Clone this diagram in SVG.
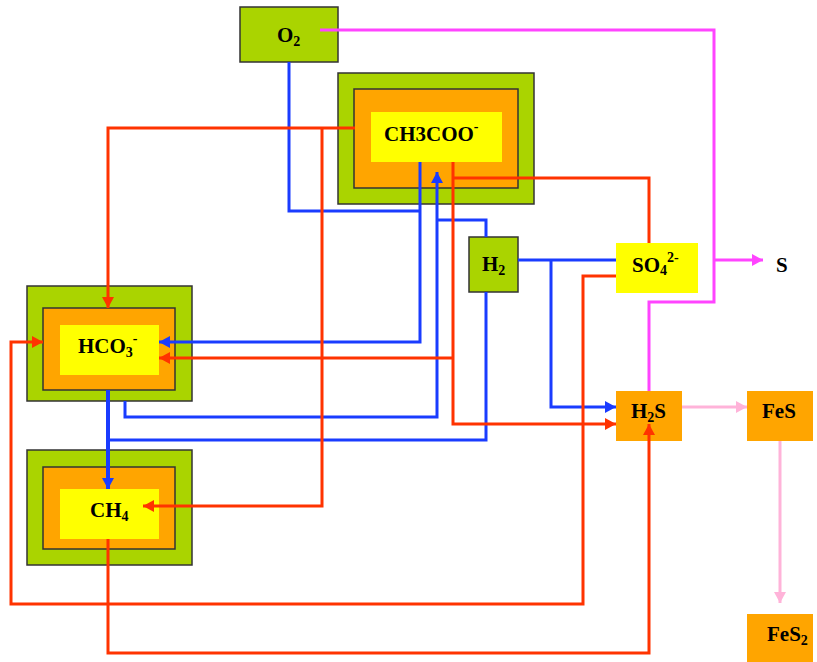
<svg xmlns="http://www.w3.org/2000/svg" width="817" height="662" viewBox="0 0 817 662">
<style>
.g{fill:#aad400;stroke:#333;stroke-width:1.5}
.o{fill:#ffa500;stroke:#333;stroke-width:1.5}
.on{fill:#ffa500}
.y{fill:#ffff00}
text{font-family:"Liberation Serif","Times New Roman",serif;font-weight:bold;font-size:21px;fill:#000}
.sub{font-size:14px}
.c{fill:none;stroke-width:3;stroke-linejoin:miter}
.b{stroke:#1a3cff}
.r{stroke:#ff3300}
.m{stroke:#ff44ff}
.p{stroke:#ffb3d9}
</style>
<defs>
<marker id="ab" markerUnits="userSpaceOnUse" markerWidth="12" markerHeight="12" refX="11" refY="6" orient="auto"><path d="M0,0 L11,6 L0,12 z" fill="#1a3cff"/></marker>
<marker id="ar" markerUnits="userSpaceOnUse" markerWidth="12" markerHeight="12" refX="11" refY="6" orient="auto"><path d="M0,0 L11,6 L0,12 z" fill="#ff3300"/></marker>
<marker id="am" markerUnits="userSpaceOnUse" markerWidth="12" markerHeight="12" refX="11" refY="6" orient="auto"><path d="M0,0 L11,6 L0,12 z" fill="#ff44ff"/></marker>
<marker id="ap" markerUnits="userSpaceOnUse" markerWidth="12" markerHeight="12" refX="11" refY="6" orient="auto"><path d="M0,0 L11,6 L0,12 z" fill="#ffb3d9"/></marker>
</defs>
<rect width="817" height="662" fill="#fff"/>

<g id="O2">
<rect class="g" x="240" y="7" width="98" height="55"/>
<text x="277" y="42">O<tspan class="sub" dy="4">2</tspan></text>
</g>

<g id="CH3COO">
<rect class="g" x="338" y="73" width="196" height="131"/>
<rect class="o" x="354" y="89" width="164" height="99"/>
<rect class="y" x="371" y="112" width="131" height="50"/>
<text x="384" y="141">CH3COO<tspan class="sub" dy="-10">-</tspan></text>
</g>

<g id="HCO3">
<rect class="g" x="27" y="286" width="165" height="115"/>
<rect class="o" x="43" y="308" width="132" height="82"/>
<rect class="y" x="60" y="325" width="99" height="50"/>
<text x="78" y="353">HCO<tspan class="sub" dy="4">3</tspan><tspan class="sub" dy="-14">-</tspan></text>
</g>

<g id="CH4">
<rect class="g" x="27" y="450" width="165" height="115"/>
<rect class="o" x="43" y="467" width="132" height="82"/>
<rect class="y" x="60" y="489" width="99" height="50"/>
<text x="90" y="517">CH<tspan class="sub" dy="4">4</tspan></text>
</g>

<g id="H2">
<rect class="g" x="469" y="237" width="49" height="55"/>
<text x="482" y="271">H<tspan class="sub" dy="4">2</tspan></text>
</g>

<g id="SO4">
<rect class="y" x="616" y="243" width="82" height="50"/>
<text x="632" y="272">SO<tspan class="sub" dy="3">4</tspan><tspan class="sub" dy="-13">2-</tspan></text>
</g>

<g id="S">
<text x="776" y="272">S</text>
</g>

<g id="H2S">
<rect class="on" x="616" y="391" width="66" height="50"/>
<text x="631" y="418">H<tspan class="sub" dy="4">2</tspan><tspan dy="-4">S</tspan></text>
</g>

<g id="FeS">
<rect class="on" x="747" y="391" width="66" height="50"/>
<text x="762" y="418">FeS</text>
</g>

<g id="FeS2">
<rect class="on" x="747" y="614" width="66" height="48"/>
<text x="767" y="641">FeS<tspan class="sub" dy="4">2</tspan></text>
</g>

<g id="connectors">
<path class="c b" d="M289,62 V211 H420"/>
<path class="c b" d="M420,162 V342 H159" marker-end="url(#ab)"/>
<path class="c b" d="M486,237 V220 H437"/>
<path class="c b" d="M125,401 V417 H437 V172" marker-end="url(#ab)"/>
<path class="c b" d="M486,292 V440 H108"/>
<path class="c b" style="stroke-width:4" d="M108,390 V489" marker-end="url(#ab)"/>
<path class="c b" d="M518,260 H616"/>
<path class="c b" d="M551,260 V407 H616" marker-end="url(#ab)"/>

<path class="c r" d="M355,128 H108 V308" marker-end="url(#ar)"/>
<path class="c r" d="M322,128 V506 H143" marker-end="url(#ar)"/>
<path class="c r" d="M453,162 V424 H616" marker-end="url(#ar)"/>
<path class="c r" d="M453,178 H649 V243"/>
<path class="c r" d="M453,358 H159" marker-end="url(#ar)"/>
<path class="c r" d="M616,276 H583 V604 H11 V342 H43" marker-end="url(#ar)"/>
<path class="c r" d="M108,539 V653 H649 V424" marker-end="url(#ar)"/>

<path class="c m" d="M320,30 H714 V302 H649 V391"/>
<path class="c m" d="M714,260 H763" marker-end="url(#am)"/>

<path class="c p" d="M682,407 H747" marker-end="url(#ap)"/>
<path class="c p" d="M780,441 V603" marker-end="url(#ap)"/>
</g>
</svg>
